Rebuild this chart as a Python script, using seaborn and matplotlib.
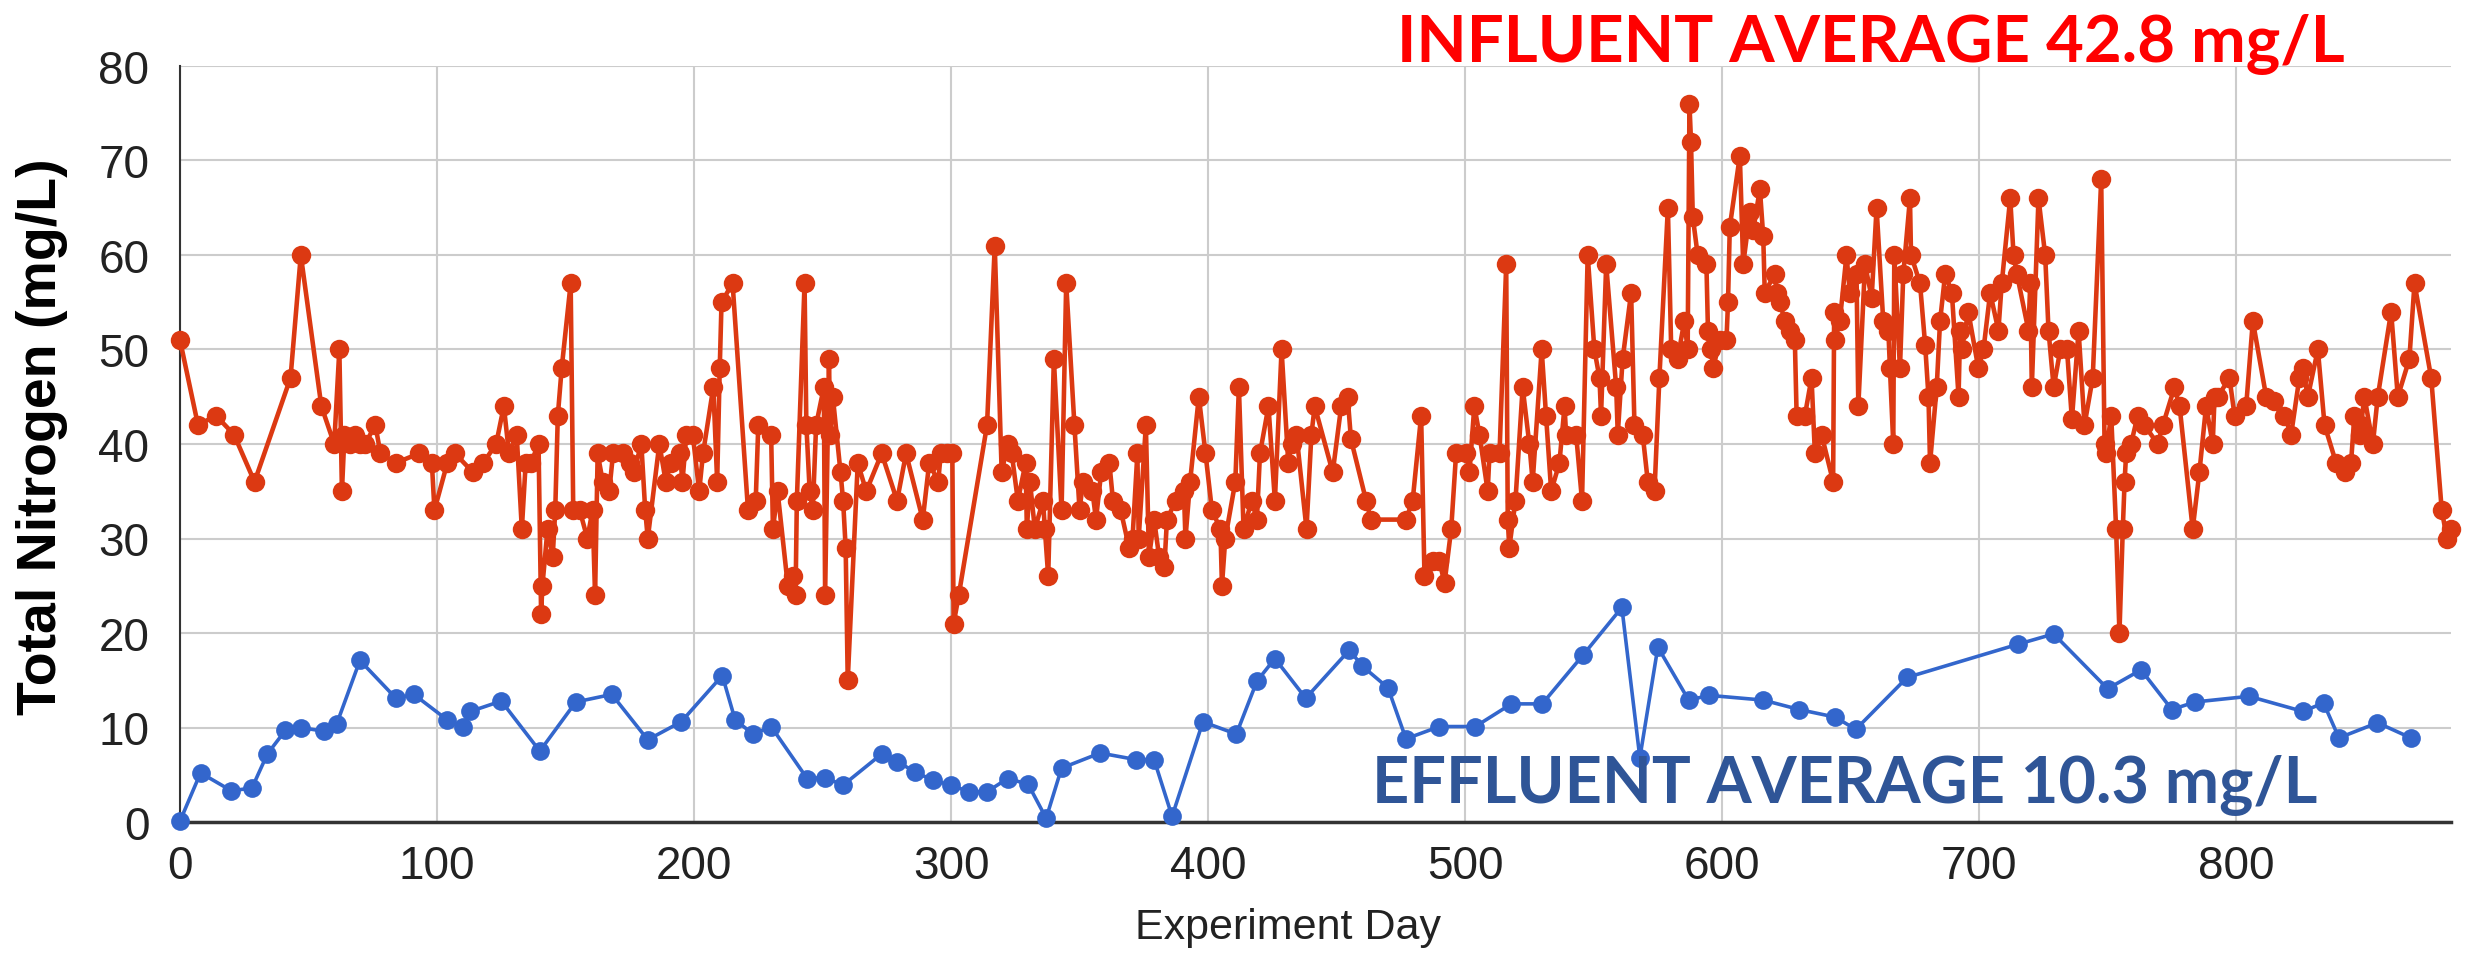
import matplotlib
matplotlib.use("Agg")
import matplotlib.pyplot as plt
import seaborn as sns
import pandas as pd

# ---------------- data ----------------
influent_day = [
    0, 7, 14, 21, 29, 43, 47, 55, 60, 62, 63, 64, 66, 68, 70, 72, 76, 78, 84, 93,
    98, 99, 104, 107, 114, 118, 123, 126, 128, 131, 133, 134.5, 136.5, 139.5, 140.5, 141, 143, 145, 146, 147,
    148.5, 152, 153, 155.5, 158.5, 160.5, 161.5, 162.5, 164.5, 167, 168.5, 172.5, 175, 176.5, 179.5, 181, 182, 186.5, 189, 191,
    194.5, 195.5, 197, 199.5, 202, 203.5, 207.5, 209, 210, 210.7, 215, 221, 224, 225, 230, 230.7, 232.5, 236.5, 238.5, 239.5,
    240, 243, 243.7, 245, 246.2, 247.5, 250.5, 251, 252.5, 253, 254, 257, 258, 259, 259.8, 263.7, 267, 273, 279, 282.5,
    289, 291.5, 295, 296, 298.5, 300.5, 301, 303, 314, 317, 319.7, 322, 323.6, 326, 329, 329.5, 330.7, 332.6, 335.8, 336.5,
    337.8, 340, 343, 344.8, 348, 350, 351.3, 355, 356.4, 358.4, 361.6, 363, 366, 369.3, 370.6, 372.5, 373, 375.8, 377, 379,
    381, 383, 384, 387.4, 390.6, 391.2, 393, 396.4, 399, 401.5, 404.8, 405.4, 406.7, 410.6, 412, 413.8, 417, 419, 420.2, 423.5,
    426, 428.6, 431.2, 432.5, 434.4, 438.3, 440.2, 441.5, 448.5, 451.8, 454.3, 455.6, 461.5, 463.4, 477, 479.6, 482.9, 484.2, 487.4, 490,
    492, 494.6, 496.5, 500.4, 501.7, 503.6, 505.6, 508.8, 509.5, 513.4, 516, 516.6, 517.2, 519.6, 522.4, 525, 526.3, 529.8, 531.5, 533.5,
    536.7, 538.7, 539.3, 543.2, 545.5, 547.7, 550.3, 552.3, 552.9, 554.9, 558.8, 559.4, 561.3, 564.6, 565.9, 569.1, 571.1, 573.7, 575.6, 578.9,
    580.2, 582.7, 585.3, 586.6, 587.3, 587.9, 588.6, 590.5, 593.9, 594.5, 595.8, 596.5, 599.1, 601.7, 602.3, 603, 606.9, 608.2, 610.1, 610.8,
    612.1, 614.7, 616, 616.6, 620.5, 621.2, 622.5, 624.4, 626.4, 628.3, 629, 632.2, 634.8, 636.1, 638.7, 643.2, 643.6, 644, 645.8, 648.4,
    649.7, 652.3, 653, 655.6, 658.2, 660.1, 662.7, 664.7, 665.3, 666.6, 667, 669.2, 670.5, 673.1, 673.5, 677, 679, 680.3, 680.9, 683.5,
    684.8, 686.8, 689.4, 692, 692.6, 693.2, 695.8, 699.7, 701.7, 704.3, 707.5, 708.8, 712.1, 713.4, 714.7, 719.2, 719.9, 720.5, 723.1, 725.7,
    727, 729, 731.6, 734.2, 736.1, 738.7, 741, 744.2, 747.5, 748.8, 749.3, 751.4, 753.3, 754.6, 755.9, 756.6, 757.2, 759.1, 761.7, 764.3,
    769.5, 771.5, 776, 778, 783.1, 785.7, 788.3, 790.9, 791.6, 792.9, 797.4, 799.4, 803.9, 806.5, 811.7, 814.9, 818.8, 821.4, 824.6, 825.9,
    827.9, 831.8, 834.4, 838.9, 842.2, 844.7, 846, 848, 848.6, 849.9, 853.2, 855.1, 860.3, 862.9, 867.4, 869.4, 875.9, 880, 882, 883.5,
]
influent_tn = [
    51, 42, 43, 41, 36, 47, 60, 44, 40, 50, 35, 41, 40, 41, 40, 40, 42, 39, 38, 39,
    38, 33, 38, 39, 37, 38, 40, 44, 39, 41, 31, 38, 38, 40, 22, 25, 31, 28, 33, 43,
    48, 57, 33, 33, 30, 33, 24, 39, 36, 35, 39, 39, 38, 37, 40, 33, 30, 40, 36, 38,
    39, 36, 41, 41, 35, 39, 46, 36, 48, 55, 57, 33, 34, 42, 41, 31, 35, 25, 26, 24,
    34, 57, 42, 35, 33, 42, 46, 24, 49, 41, 45, 37, 34, 29, 15, 38, 35, 39, 34, 39,
    32, 38, 36, 39, 39, 39, 21, 24, 42, 61, 37, 40, 39, 34, 38, 31, 36, 31, 34, 31,
    26, 49, 33, 57, 42, 33, 36, 35, 32, 37, 38, 34, 33, 29, 30, 39, 30, 42, 28, 32,
    28, 27, 32, 34, 35, 30, 36, 45, 39, 33, 31, 25, 30, 36, 46, 31, 34, 32, 39, 44,
    34, 50, 38, 40, 41, 31, 41, 44, 37, 44, 45, 40.5, 34, 32, 32, 34, 43, 26, 27.6, 27.6,
    25.3, 31, 39, 39, 37, 44, 41, 35, 39, 39, 59, 32, 29, 34, 46, 40, 36, 50, 43, 35,
    38, 44, 41, 41, 34, 60, 50, 47, 43, 59, 46, 41, 49, 56, 42, 41, 36, 35, 47, 65,
    50, 49, 53, 50, 76, 72, 64, 60, 59, 52, 50, 48, 51, 51, 55, 63, 70.5, 59, 63, 64.5,
    62.6, 67, 62, 56, 58, 56, 55, 53, 52, 51, 43, 43, 47, 39, 41, 36, 54, 51, 53, 60,
    56, 58, 44, 59, 55.5, 65, 53, 52, 48, 40, 60, 48, 58, 66, 60, 57, 50.5, 45, 38, 46,
    53, 58, 56, 45, 52, 50, 54, 48, 50, 56, 52, 57, 66, 60, 58, 52, 57, 46, 66, 60,
    52, 46, 50, 50, 42.6, 52, 42, 47, 68, 40, 39, 43, 31, 20, 31, 36, 39, 40, 43, 42,
    40, 42, 46, 44, 31, 37, 44, 40, 45, 45, 47, 43, 44, 53, 45, 44.5, 43, 41, 47, 48,
    45, 50, 42, 38, 37, 38, 43, 41, 42, 45, 40, 45, 54, 45, 49, 57, 47, 33, 30, 31,
]
effluent_day = [
    0, 8, 20, 28, 34, 41, 47, 56, 61, 70, 84, 91, 104, 110, 113, 125, 140, 154, 168, 182,
    195, 211, 216, 223, 230, 244, 251, 258, 273, 279, 286, 293, 300, 307, 314, 322, 330, 337, 343, 358,
    372, 379, 386, 398, 411, 419, 426, 438, 455, 460, 470, 477, 490, 504, 518, 530, 546, 561, 568, 575,
    587, 595, 616, 630, 644, 652, 672, 715, 729, 750, 763, 775, 784, 805, 826, 834, 840, 855, 868,
]
effluent_tn = [
    0.1, 5.2, 3.3, 3.6, 7.2, 9.7, 10, 9.6, 10.4, 17.1, 13.1, 13.5, 10.8, 10.1, 11.7, 12.8, 7.5, 12.7, 13.5, 8.7,
    10.6, 15.5, 10.8, 9.3, 10.1, 4.6, 4.7, 3.9, 7.2, 6.4, 5.3, 4.4, 3.9, 3.2, 3.2, 4.6, 4.0, 0.4, 5.7, 7.3,
    6.6, 6.6, 0.6, 10.6, 9.3, 14.9, 17.3, 13.1, 18.2, 16.5, 14.2, 8.8, 10.1, 10.1, 12.5, 12.5, 17.7, 22.7, 6.8, 18.5,
    12.9, 13.4, 12.9, 11.9, 11.1, 9.8, 15.3, 18.8, 19.9, 14.1, 16.1, 11.9, 12.7, 13.3, 11.7, 12.6, 8.9, 10.5, 8.9,
]
x_ticks = [0, 100, 200, 300, 400, 500, 600, 700, 800]
y_ticks = [0, 10, 20, 30, 40, 50, 60, 70, 80]
influent_label = "INFLUENT AVERAGE 42.8 mg/L"
effluent_label = "EFFLUENT AVERAGE 10.3 mg/L"
x_title = "Experiment Day"
y_title = "Total Nitrogen (mg/L)"

# ---------------- style ----------------
sns.set_theme(style="whitegrid")
plt.rcParams['font.family'] = ['Liberation Sans', 'DejaVu Sans']

W, H = 2471, 962
fig = plt.figure(figsize=(W / 100, H / 100), dpi=100)
fig.patch.set_facecolor("white")
ax = fig.add_axes([180 / W, 1 - 823 / H, (2451 - 180) / W, (823 - 67) / H])
ax.set_facecolor("white")

RED = "#DC3912"
BLUE = "#3366CC"

df_in = pd.DataFrame({"day": influent_day, "tn": influent_tn})
df_ef = pd.DataFrame({"day": effluent_day, "tn": effluent_tn})

sns.lineplot(data=df_in, x="day", y="tn", ax=ax, estimator=None, sort=False,
             color=RED, linewidth=3.3, marker="o", markersize=14,
             markeredgewidth=0, clip_on=False, zorder=3)
sns.lineplot(data=df_ef, x="day", y="tn", ax=ax, estimator=None, sort=False,
             color=BLUE, linewidth=2.6, marker="o", markersize=13.5,
             markeredgewidth=0, clip_on=False, zorder=3)

ax.set_xlim(0, 883.6)
ax.set_ylim(0, 80)
ax.set_xticks(x_ticks)
ax.set_yticks(y_ticks)
ax.set_xlabel("")
ax.set_ylabel("")
ax.grid(True, color="#cccccc", linewidth=1.5)
ax.set_axisbelow(True)
for s in ["top", "right"]:
    ax.spines[s].set_visible(False)
ax.spines["left"].set_color("#333333")
ax.spines["left"].set_linewidth(1.5)
ax.spines["bottom"].set_color("#333333")
ax.spines["bottom"].set_linewidth(2.5)
ax.spines["bottom"].set_zorder(2.5)
ax.tick_params(axis="both", length=0, labelsize=33, colors="#222222")
ax.tick_params(axis="x", pad=16)
ax.tick_params(axis="y", pad=22)

# axis titles
fig.text(42 / W, 1 - 437 / H, y_title, rotation=90, ha="center", va="center",
         fontsize=40, fontweight="bold", color="black")
fig.text(1288 / W, 1 - 928 / H, x_title, ha="center", va="center",
         fontsize=31, color="#222222")

# annotations, fitted to width
fig.canvas.draw()
renderer = fig.canvas.get_renderer()


def fit_text(s, x0, x1, baseline, color):
    t = fig.text(x0 / W, 1 - baseline / H, s, ha="left", va="baseline",
                 fontsize=40, color=color, family=["Lato", "DejaVu Sans"],
                 fontweight="bold", zorder=5)
    bb = t.get_window_extent(renderer=renderer)
    t.set_fontsize(40 * (x1 - x0) / bb.width)
    return t


fit_text(influent_label, 1397, 2344, 62, "#FF0000")
fit_text(effluent_label, 1372, 2317, 803, "#2F5597")

fig.savefig("out.png", dpi=100, facecolor="white")
